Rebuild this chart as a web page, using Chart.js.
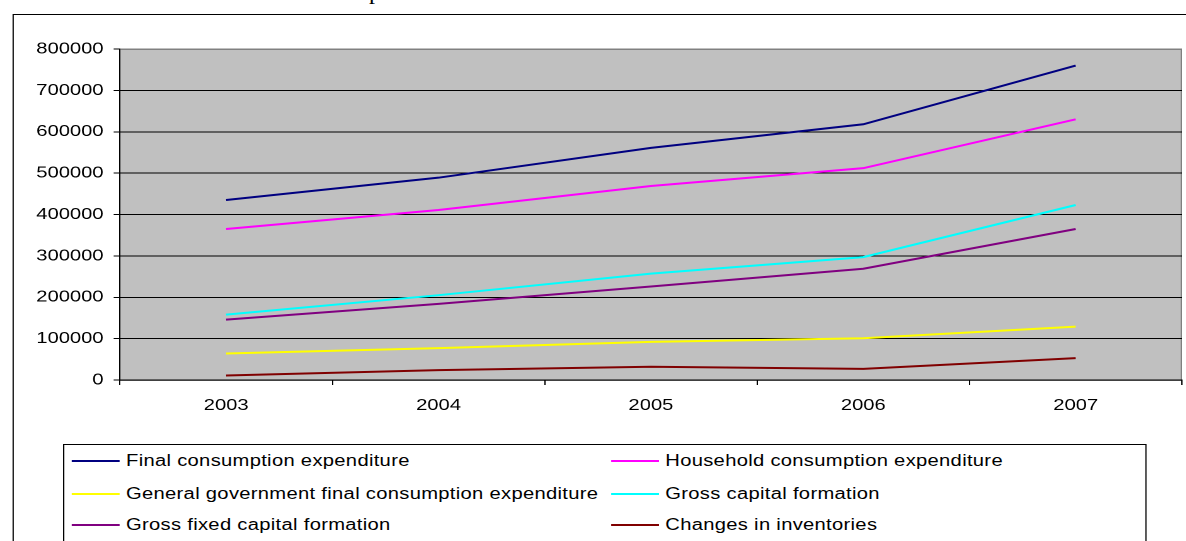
<!DOCTYPE html>
<html lang="en">
<head>
  <meta charset="UTF-8" />
  <title>Expenditure 2003-2007</title>
  <script src="https://cdn.jsdelivr.net/npm/chart.js"></script>
  <style>
    body {
      margin: 0;
      width: 1186px;
      height: 541px;
      overflow: hidden;
      background: #fff;
      position: relative;
      font-family: 'Liberation Sans', Arial, sans-serif;
    }

    /* heading above the chart, only its descender is in view */
    .page-title {
      position: absolute;
      left: 369px;
      top: -21px;
      font-family: 'Liberation Serif', 'Times New Roman', serif;
      font-size: 24px;
      line-height: 1;
      color: #000;
      white-space: nowrap;
    }

    /* the source picture is stretched sideways, so the whole chart is too */
    .stretch {
      position: absolute;
      left: 0;
      top: 0;
      width: 941px;
      height: 541px;
      transform: scaleX(1.26);
      transform-origin: 0 0;
    }

    .frame {
      position: absolute;
      left: 9.5px;
      top: 14px;
      width: 1000px;
      height: 600px;
      border: 1px solid #000;
    }

    #chart {
      position: absolute;
      left: 0;
      top: 0;
    }

    .legend {
      position: absolute;
      left: 50px;
      top: 444px;
      width: 858px;
      height: 200px;
      border: 1px solid #000;
      background: #fff;
    }

    .legend-item {
      position: absolute;
      height: 20px;
      font-size: 16px;
      line-height: 20px;
      letter-spacing: 0.25px;
      color: #000;
      white-space: nowrap;
    }

    .legend-item span {
      display: inline-block;
      width: 38px;
      height: 2px;
      vertical-align: middle;
      margin-right: 5px;
      position: relative;
      top: -1px;
    }
  </style>
</head>
<body>
  <div class="page-title">p</div>

  <div class="stretch">
    <div class="frame"></div>
    <canvas id="chart" width="941" height="541"></canvas>
    <div class="legend" id="legend"></div>
  </div>

  <script>
    // ---- data ----
    const years = ['2003', '2004', '2005', '2006', '2007'];
    const finalConsumption = [435000, 489000, 561000, 618000, 760000];
    const householdConsumption = [365000, 411000, 469000, 512000, 630000];
    const governmentConsumption = [64000, 77000, 92000, 101000, 129000];
    const grossCapital = [158000, 205000, 257000, 297000, 423000];
    const grossFixedCapital = [146000, 184000, 226000, 269000, 365000];
    const inventoryChanges = [11000, 24000, 32000, 27000, 53000];

    const seriesNames = [
      'Final consumption expenditure',
      'Household consumption expenditure',
      'General government final consumption expenditure',
      'Gross capital formation',
      'Gross fixed capital formation',
      'Changes in inventories'
    ];
    const seriesValues = [
      finalConsumption, householdConsumption, governmentConsumption,
      grossCapital, grossFixedCapital, inventoryChanges
    ];
    const seriesColors = ['#000080', '#ff00ff', '#ffff00', '#00ffff', '#800080', '#800000'];

    const yMax = 800000;
    const yStep = 100000;

    Chart.defaults.font.family = "'Liberation Sans', Arial, sans-serif";
    Chart.defaults.font.size = 16;
    Chart.defaults.color = '#000';

    // grey plot area with a grey edge, drawn under the grid
    const plotBackground = {
      id: 'plotBackground',
      beforeDraw(chart) {
        const a = chart.chartArea;
        const ctx = chart.ctx;
        ctx.save();
        ctx.fillStyle = '#c0c0c0';
        ctx.fillRect(a.left, a.top, a.right - a.left, a.bottom - a.top);
        ctx.strokeStyle = '#808080';
        ctx.lineWidth = 1;
        ctx.strokeRect(a.left, a.top + 0.5, a.right - a.left - 0.5, a.bottom - a.top);
        ctx.restore();
      }
    };

    const chart = new Chart(document.getElementById('chart'), {
      type: 'line',
      data: {
        labels: years,
        datasets: seriesNames.map((name, i) => ({
          label: name,
          data: seriesValues[i],
          borderColor: seriesColors[i],
          backgroundColor: seriesColors[i],
          borderWidth: 2,
          pointRadius: 0,
          tension: 0,
          fill: false
        }))
      },
      options: {
        responsive: false,
        animation: false,
        devicePixelRatio: 2,
        layout: { padding: { left: 0, right: 3, top: 49, bottom: 121 } },
        plugins: {
          legend: { display: false },
          tooltip: { enabled: false }
        },
        scales: {
          x: {
            offset: true,
            afterFit(scale) { scale.height = 40; },
            grid: {
              drawOnChartArea: false,
              offset: true,
              tickLength: 5,
              tickColor: '#000'
            },
            border: { color: '#000', width: 1 },
            ticks: { padding: 11, maxRotation: 0 }
          },
          y: {
            min: 0,
            max: yMax,
            afterFit(scale) { scale.width = 95.2; },
            grid: {
              color: ctx => (ctx.tick && ctx.tick.value === yMax ? '#808080' : '#000'),
              tickColor: '#000',
              tickLength: 5
            },
            border: { color: '#000', width: 1 },
            ticks: {
              stepSize: yStep,
              padding: 8,
              callback: v => String(v)
            }
          }
        }
      },
      plugins: [plotBackground]
    });

    // ---- legend: two columns inside a box, built from the datasets ----
    const legendBox = document.getElementById('legend');
    const colX = [6, 434];
    const rowY = [6, 39, 70];
    chart.data.datasets.forEach((ds, i) => {
      const item = document.createElement('div');
      item.className = 'legend-item';
      item.style.left = colX[i % 2] + 'px';
      item.style.top = rowY[Math.floor(i / 2)] + 'px';
      const swatch = document.createElement('span');
      swatch.style.background = ds.borderColor;
      item.appendChild(swatch);
      item.appendChild(document.createTextNode(ds.label));
      legendBox.appendChild(item);
    });
  </script>
</body>
</html>
